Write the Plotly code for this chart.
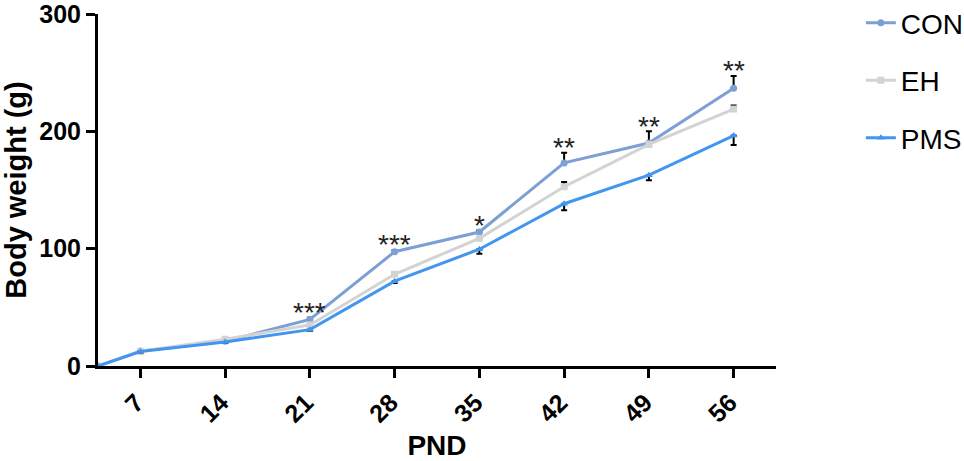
import plotly.graph_objects as go

# postnatal day, first point is the origin of the curves
pnd = [3.5, 7, 14, 21, 28, 35, 42, 49, 56]
pnd_ticks = [7, 14, 21, 28, 35, 42, 49, 56]

con = [0, 12.7, 21.0, 39.7, 97.4, 114.2, 173.1, 190.0, 236.7]
con_err = [0, 0.8, 1.0, 1.5, 1.5, 1.5, 8.7, 10.0, 10.5]

eh = [0, 12.5, 22.8, 35.0, 78.2, 108.8, 152.8, 188.8, 219.0]
eh_err = [0, 0.8, 1.0, 1.0, 1.5, 1.5, 4.0, 2.0, 3.0]

pms = [0, 12.3, 20.5, 31.0, 72.3, 99.5, 138.3, 162.6, 196.4]
pms_err = [0, 0.8, 1.0, 1.0, 1.5, 3.8, 5.5, 4.2, 8.0]

stars = ["", "", "", "***", "***", "*", "**", "**", "**"]

col_con = "#7c9fd5"
col_eh = "#d3d3d3"
col_pms = "#4296f0"

FONT = "Liberation Sans, Arial, sans-serif"

fig = go.Figure()

fig.add_trace(go.Scatter(
    x=pnd, y=con, name="CON", mode="lines+markers", legendgroup="a",
    line=dict(color=col_con, width=3),
    marker=dict(symbol="circle", size=7, color=col_con),
    error_y=dict(type="data", symmetric=False, array=con_err,
                 arrayminus=[0] * len(con), color="black", thickness=2, width=3),
))
fig.add_trace(go.Scatter(
    x=pnd, y=eh, name="EH", mode="lines+markers", legendgroup="b",
    line=dict(color=col_eh, width=3),
    marker=dict(symbol="square", size=7, color=col_eh),
    error_y=dict(type="data", symmetric=False, array=eh_err,
                 arrayminus=[0] * len(eh), color="black", thickness=2, width=3),
))
fig.add_trace(go.Scatter(
    x=pnd, y=pms, name="PMS", mode="lines+markers", legendgroup="c",
    line=dict(color=col_pms, width=3),
    marker=dict(symbol="triangle-up", size=7, color=col_pms),
    error_y=dict(type="data", symmetric=False, array=[0] * len(pms),
                 arrayminus=pms_err, color="black", thickness=2, width=3),
))

# significance marks above the CON error bars
for x, y, e, s in zip(pnd, con, con_err, stars):
    if s:
        fig.add_annotation(x=x, y=y + e, text=s, showarrow=False,
                           yanchor="middle", yshift=5,
                           font=dict(family=FONT, size=28, color="#222"))

fig.update_layout(
    width=964, height=461,
    margin=dict(l=98, r=188, t=14, b=95, autoexpand=False),
    paper_bgcolor="white", plot_bgcolor="white",
    font=dict(family=FONT, color="black"),
    legend=dict(xref="container", x=0.893, y=1.045,
                xanchor="left", yanchor="top",
                font=dict(family=FONT, size=28), tracegroupgap=18,
                bgcolor="rgba(0,0,0,0)"),
)

fig.update_xaxes(
    range=[3.5, 59.5], tickvals=pnd_ticks, tickangle=-45, automargin=False,
    ticklabeloverflow="allow", ticklabelstandoff=0, ticklabelshift=-4,
    showline=True, linecolor="black", linewidth=3, showgrid=False, zeroline=False,
    ticks="outside", ticklen=9, tickwidth=3, tickcolor="black",
    tickfont=dict(family=FONT, size=25, weight="bold"),
    title=dict(text="PND", font=dict(family=FONT, size=28, weight="bold"), standoff=17),
)
fig.update_yaxes(
    range=[0, 300], tickvals=[0, 100, 200, 300], automargin=False,
    ticklabeloverflow="allow",
    showline=True, linecolor="black", linewidth=3, showgrid=False, zeroline=False,
    ticks="outside", ticklen=9, tickwidth=3, tickcolor="black",
    tickfont=dict(family=FONT, size=25, weight="bold"),
    title=dict(text="Body weight (g)", font=dict(family=FONT, size=29, weight="bold"),
               standoff=8),
)

# drop the page's default body margin so the figure fills the window
fig.write_html("out.html", config={"displayModeBar": False},
               post_script="document.body.style.margin = '0';")
